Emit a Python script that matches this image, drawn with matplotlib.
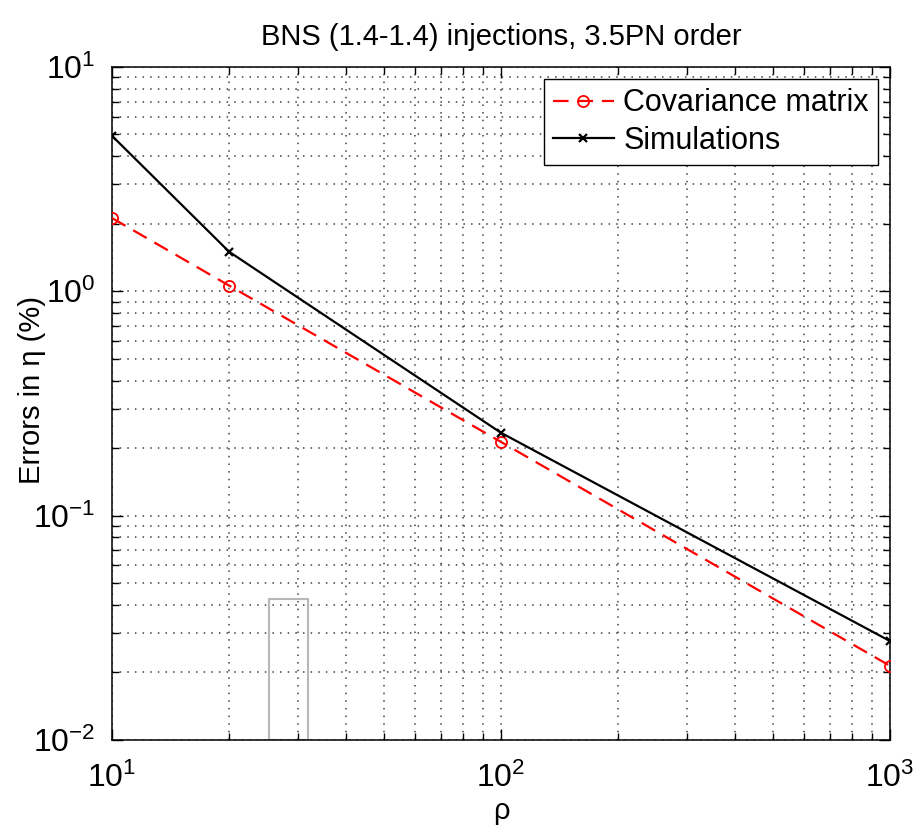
import matplotlib
matplotlib.use("Agg")
import matplotlib.pyplot as plt
from matplotlib.patches import Rectangle

plt.rcParams["font.family"] = ["Liberation Sans", "DejaVu Sans"]

# SNR values and percentage errors in eta
rho = [10, 20, 100, 1000]
cov_err = [2.12, 1.06, 0.213, 0.0214]
sim_err = [4.93, 1.50, 0.234, 0.0276]

# stray grey box in the original figure (x range, top in y)
box_x = [25.3, 31.9]
box_top = 0.0425

fig = plt.figure(figsize=(9.15, 8.31), dpi=100)
ax = fig.add_axes([0.1224, 0.1095, 0.8503, 0.81])

ax.add_patch(Rectangle((box_x[0], 0.01), box_x[1] - box_x[0], box_top - 0.01,
                       fill=False, edgecolor="0.72", lw=1.5, zorder=1))
ax.plot(rho, cov_err, "--o", color="red", lw=1.6, ms=8, mfc="none", mew=1.3,
        dashes=(7, 4), label="Covariance matrix", zorder=3)
ax.plot(rho, sim_err, "-x", color="black", lw=1.6, ms=6, mew=1.6,
        label="Simulations", zorder=3)

ax.set_xscale("log"); ax.set_yscale("log")
ax.set_xlim(10, 1000); ax.set_ylim(0.01, 10)
ax.grid(True, which="both", ls=(0, (1, 4)), color="0.25", lw=1.1)
ax.tick_params(which="both", direction="in", top=True, right=True, labelsize=23)
ax.tick_params(axis="x", which="major", pad=16)
ax.tick_params(axis="y", which="major", pad=12)
ax.tick_params(which="major", length=8, width=1)
ax.tick_params(which="minor", length=5, width=1)
for s in ax.spines.values():
    s.set_linewidth(1.1)

ax.set_xlabel("ρ", fontsize=21)
ax.set_ylabel("Errors in η (%)", fontsize=21)
ax.xaxis.set_label_coords(0.5, -0.085)
ax.yaxis.set_label_coords(-0.085, 0.52)
ax.set_title("BNS (1.4-1.4) injections, 3.5PN order", fontsize=21, pad=16)
leg = ax.legend(loc="upper right", fontsize=22, fancybox=False, framealpha=1,
                edgecolor="black", borderaxespad=0.4, handlelength=2.0,
                handletextpad=0.3, labelspacing=0.25, borderpad=0.3)
leg.get_frame().set_linewidth(1.0)

fig.savefig("out.png", dpi=100)
